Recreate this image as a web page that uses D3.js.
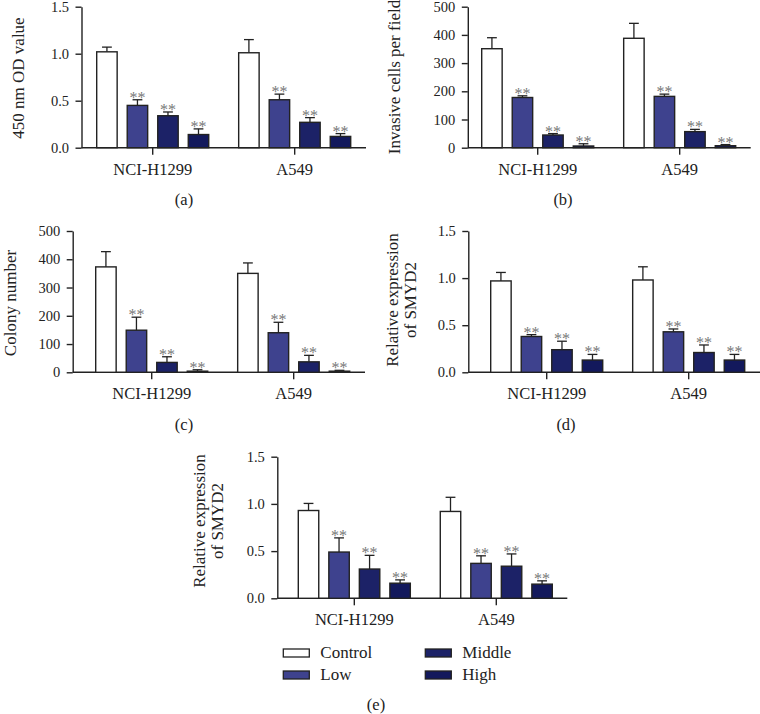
<!DOCTYPE html>
<html>
<head>
<meta charset="utf-8">
<script src="https://cdn.jsdelivr.net/npm/d3@7"></script>
<style>
  body { margin: 0; background: #fff; }
  svg { display: block; }
  text { font-family: "Liberation Serif", "Times New Roman", serif; }
</style>
</head>
<body>
<svg id="chart" width="760" height="714"></svg>
<script>
// data
const groups = ["NCI-H1299", "A549"];
const series = ["Control", "Low", "Middle", "High"];
const colors = ["#ffffff", "#3e428e", "#1c2267", "#13195c"];

// (a) CCK-8
const odMean = [[1.02, 0.45, 0.34, 0.14], [1.01, 0.51, 0.27, 0.12]];
const odSd   = [[0.05, 0.06, 0.04, 0.06], [0.14, 0.06, 0.05, 0.03]];
// (b) transwell
const invMean = [[351, 178, 45, 6], [388, 182, 57, 7]];
const invSd   = [[39, 6, 5, 8], [53, 8, 8, 4]];
// (c) colony formation
const colMean = [[373, 149, 35, 4], [350, 140, 37, 4]];
const colSd   = [[54, 46, 20, 5], [37, 37, 23, 3]];
// (d) SMYD2 expression
const smydMeanD = [[0.97, 0.38, 0.24, 0.13], [0.98, 0.43, 0.21, 0.13]];
const smydSdD   = [[0.09, 0.02, 0.09, 0.06], [0.14, 0.03, 0.08, 0.06]];
// (e) SMYD2 expression
const smydMeanE = [[0.93, 0.49, 0.31, 0.16], [0.92, 0.37, 0.34, 0.15]];
const smydSdE   = [[0.075, 0.15, 0.145, 0.035], [0.15, 0.08, 0.13, 0.035]];

const ticksFrac = [0, 0.5, 1.0, 1.5];
const ticksCount = [0, 100, 200, 300, 400, 500];

const FONT = '"Liberation Serif", "Times New Roman", serif';

const svg = d3.select("#chart").attr("font-family", FONT);
svg.append("rect").attr("width", 760).attr("height", 714).attr("fill", "#fff");

function drawPanel(p) {
  const g = svg.append("g");

  const y = d3.scaleLinear().domain([0, p.max]).range([p.y0, p.yTop]);
  const x = d3.scaleBand().domain(groups).range([p.x0, p.x0 + 254])
              .paddingInner(0.211).paddingOuter(0);
  const xi = d3.scaleBand().domain(series).range([0, x.bandwidth()])
               .paddingInner(0.33).paddingOuter(0);

  // y axis
  const yAxis = d3.axisLeft(y).tickValues(p.ticks).tickFormat(p.fmt)
                  .tickSize(6).tickSizeOuter(0).tickPadding(6.5);
  const ya = g.append("g").attr("transform", "translate(" + p.axisX + ",0)").call(yAxis);
  ya.attr("font-family", FONT).attr("font-size", null);
  ya.selectAll("text").attr("font-size", 14.5).attr("font-family", FONT).attr("fill", "#222");
  ya.selectAll("path, line").attr("stroke", "#222").attr("stroke-width", 1.4);

  // x axis line + group ticks
  g.append("line")
   .attr("x1", p.axisX).attr("x2", p.axisEnd)
   .attr("y1", p.y0).attr("y2", p.y0)
   .attr("stroke", "#222").attr("stroke-width", 1.4);
  const xAxis = d3.axisBottom(x).tickSize(7).tickSizeOuter(0).tickPadding(8.3);
  const xa = g.append("g").attr("transform", "translate(0," + p.y0 + ")").call(xAxis);
  xa.attr("font-family", FONT).attr("font-size", null);
  xa.select(".domain").remove();
  xa.selectAll("text").attr("font-size", 16.5).attr("font-family", FONT).attr("fill", "#222");
  xa.selectAll("line").attr("stroke", "#222").attr("stroke-width", 1.4);

  // bars
  const rows = [];
  groups.forEach((grp, gi) => series.forEach((s, si) => {
    rows.push({ grp: grp, s: s, si: si, v: p.mean[gi][si], e: p.sd[gi][si] });
  }));

  const cell = g.selectAll("g.cell").data(rows).enter().append("g")
    .attr("class", "cell")
    .attr("transform", d => "translate(" + (x(d.grp) + xi(d.s)) + ",0)");

  const bw = xi.bandwidth();
  const cap = bw * 0.48;

  cell.append("line")
    .attr("x1", bw / 2).attr("x2", bw / 2)
    .attr("y1", d => y(d.v)).attr("y2", d => y(d.v + d.e))
    .attr("stroke", "#222").attr("stroke-width", 1.3);
  cell.append("line")
    .attr("x1", bw / 2 - cap / 2).attr("x2", bw / 2 + cap / 2)
    .attr("y1", d => y(d.v + d.e)).attr("y2", d => y(d.v + d.e))
    .attr("stroke", "#222").attr("stroke-width", 1.3);

  cell.append("rect")
    .attr("x", 0).attr("width", bw)
    .attr("y", d => y(d.v)).attr("height", d => p.y0 - y(d.v))
    .attr("fill", d => colors[d.si])
    .attr("stroke", "#222").attr("stroke-width", 1.4);

  cell.filter(d => d.si > 0).append("text")
    .attr("x", bw / 2).attr("y", d => y(d.v + d.e) + 3)
    .attr("text-anchor", "middle")
    .attr("font-size", 16).attr("fill", "#777")
    .text("**");

  // y label
  const lab = g.append("text")
    .attr("transform", "translate(" + p.labX + "," + p.labY + ") rotate(-90)")
    .attr("text-anchor", "middle")
    .attr("font-size", 17).attr("fill", "#222");
  p.label.forEach((t, i) => {
    lab.append("tspan").attr("x", 0)
       .attr("dy", i === 0 ? (0.35 - (p.label.length - 1) * 0.55) + "em" : "1.1em")
       .text(t);
  });

  // panel letter
  g.append("text")
    .attr("x", p.tagX).attr("y", p.tagY)
    .attr("text-anchor", "middle")
    .attr("font-size", 16.5).attr("fill", "#222")
    .text(p.tag);
}

const fmt1 = d3.format(".1f");
const fmt0 = d3.format("d");

drawPanel({ mean: odMean, sd: odSd, max: 1.5, ticks: ticksFrac, fmt: fmt1,
  axisX: 81.5, axisEnd: 366, x0: 96.7, yTop: 6.7, y0: 147.7,
  label: ["450 nm OD value"], labX: 18, labY: 78, tag: "(a)", tagX: 184, tagY: 205 });

drawPanel({ mean: invMean, sd: invSd, max: 500, ticks: ticksCount, fmt: fmt0,
  axisX: 467.8, axisEnd: 750.7, x0: 481.7, yTop: 6.7, y0: 147.7,
  label: ["Invasive cells per field"], labX: 394, labY: 77, tag: "(b)", tagX: 563, tagY: 205 });

drawPanel({ mean: colMean, sd: colSd, max: 500, ticks: ticksCount, fmt: fmt0,
  axisX: 72.7, axisEnd: 365, x0: 95.7, yTop: 231, y0: 372.3,
  label: ["Colony number"], labX: 10, labY: 303, tag: "(c)", tagX: 184, tagY: 430 });

drawPanel({ mean: smydMeanD, sd: smydSdD, max: 1.5, ticks: ticksFrac, fmt: fmt1,
  axisX: 468.3, axisEnd: 760, x0: 490.7, yTop: 231, y0: 372.3,
  label: ["Relative expression", "of SMYD2"], labX: 401, labY: 300, tag: "(d)", tagX: 566, tagY: 430 });

drawPanel({ mean: smydMeanE, sd: smydSdE, max: 1.5, ticks: ticksFrac, fmt: fmt1,
  axisX: 277.3, axisEnd: 567.3, x0: 298.3, yTop: 456.7, y0: 598.3,
  label: ["Relative expression", "of SMYD2"], labX: 208, labY: 521, tag: "(e)", tagX: 376, tagY: 710 });

// legend
const legendPos = [[283.3, 649], [283.3, 671], [425.3, 649], [425.3, 671]];
const legend = svg.append("g").selectAll("g").data(series).enter().append("g")
  .attr("transform", (d, i) => "translate(" + legendPos[i][0] + "," + legendPos[i][1] + ")");
legend.append("rect")
  .attr("width", 26).attr("height", 8)
  .attr("fill", (d, i) => colors[i])
  .attr("stroke", "#222").attr("stroke-width", 1.3);
legend.append("text")
  .attr("x", 37).attr("y", 8.5)
  .attr("font-size", 17).attr("font-family", FONT).attr("fill", "#222")
  .text(d => d);
</script>
</body>
</html>
